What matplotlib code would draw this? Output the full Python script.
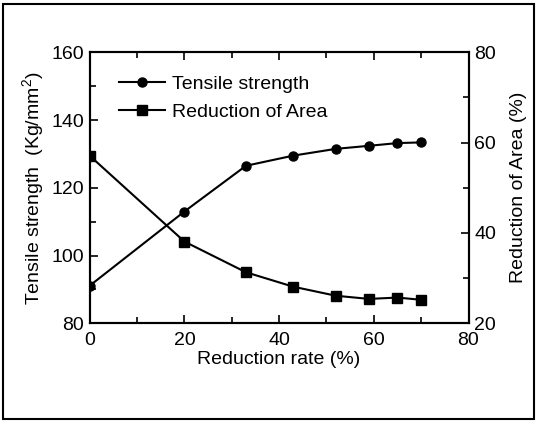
import matplotlib.pyplot as plt
from matplotlib.patches import Rectangle
from matplotlib.ticker import MultipleLocator

# Data
reductionRate = [0, 20, 33, 43, 52, 59, 65, 70]
tensileStrength = [91.1, 113.0, 126.5, 129.5, 131.5, 132.4, 133.2, 133.4]
reductionOfArea = [57.1, 38.1, 31.3, 28.1, 26.1, 25.4, 25.7, 25.2]

plt.rcParams['font.family'] = ['Liberation Sans', 'DejaVu Sans']
plt.rcParams['font.size'] = 14
plt.rcParams['mathtext.fontset'] = 'custom'
plt.rcParams['mathtext.rm'] = 'Liberation Sans'

fig = plt.figure(figsize=(5.37, 4.22), dpi=100)
ax = fig.add_axes([89.7 / 537, 1 - 323.3 / 422, (468.5 - 89.7) / 537, (323.3 - 52.3) / 422])
ax2 = ax.twinx()

l1, = ax.plot(reductionRate, tensileStrength, color='black', marker='o', markersize=6.5, linewidth=1.5)
l2, = ax2.plot(reductionRate, reductionOfArea, color='black', marker='s', markersize=6.5, linewidth=1.5)

ax.set_xlim(0, 80)
ax.set_ylim(80, 160)
ax2.set_ylim(20, 80)

ax.xaxis.set_major_locator(MultipleLocator(20))
ax.xaxis.set_minor_locator(MultipleLocator(10))
ax.yaxis.set_major_locator(MultipleLocator(20))
ax.yaxis.set_minor_locator(MultipleLocator(10))
ax2.yaxis.set_major_locator(MultipleLocator(20))
ax2.yaxis.set_minor_locator(MultipleLocator(10))

ax.tick_params(which='both', direction='in', top=True, width=1.2)
ax.tick_params(which='major', length=6)
ax.tick_params(which='minor', length=4)
ax.tick_params(axis='x', pad=6)
ax.tick_params(axis='y', pad=4)
ax2.tick_params(which='both', direction='in', width=1.2)
ax2.tick_params(which='major', length=6, pad=4)
ax2.tick_params(which='minor', length=4)

for a in (ax, ax2):
    for s in a.spines.values():
        s.set_linewidth(1.5)

ax.set_xlabel('Reduction rate (%)', labelpad=2)
ax.set_ylabel('Tensile strength  (Kg/mm$^2$)', labelpad=3)
ax2.set_ylabel('Reduction of Area (%)', labelpad=10)

ax.legend([l1, l2], ['Tensile strength', 'Reduction of Area'], loc='upper left',
          frameon=False, handlelength=2.4, handletextpad=0.35, labelspacing=0.55,
          bbox_to_anchor=(0.03, 0.98))

# outer frame around the whole picture
fig.patches.append(Rectangle((3 / 537, 3 / 422), 531 / 537, 415 / 422, transform=fig.transFigure,
                             fill=False, edgecolor='black', linewidth=1.5))

fig.savefig('out.png', dpi=100)
